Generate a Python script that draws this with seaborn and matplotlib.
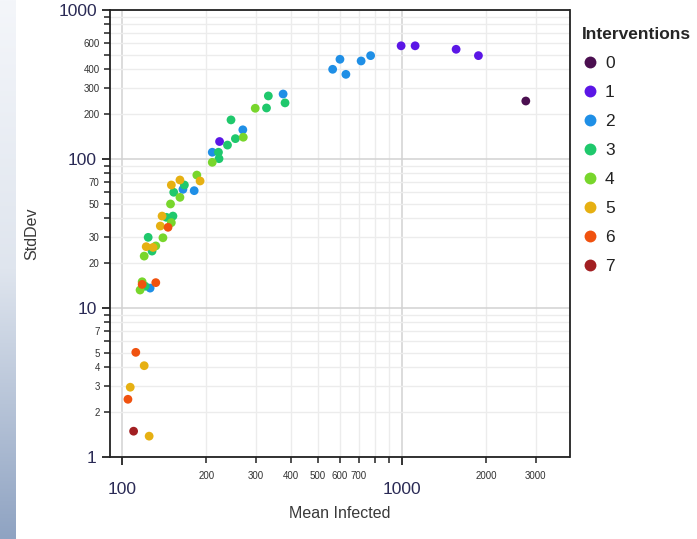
import numpy as np
import pandas as pd
import matplotlib
matplotlib.use("Agg")
import matplotlib.pyplot as plt
import matplotlib.ticker as mticker
import seaborn as sns

# valori (per numero di interventi)
mean_infected = [
    2765,
    992, 1113, 1559, 1873, 223,
    565, 600, 630, 714, 772, 376, 270, 210, 181, 165, 126,
    333, 328, 382, 245, 254, 238, 221, 222, 167, 153, 152, 144, 124, 128, 121,
    299, 271, 210, 185, 161, 149, 150, 140, 132, 120, 118, 116,
    190, 161, 150, 139, 137, 122, 129, 120, 107, 125,
    146, 118, 132, 112, 105,
    110,
]
std_dev = [
    245,
    575, 575, 545, 494, 131,
    400, 467, 370, 455, 494, 273, 157, 111, 61.3, 62.6, 13.6,
    265, 220, 238, 183, 137, 124, 111, 100.5, 66.9, 59.8, 41.4, 40.6, 29.8, 24.1, 14.0,
    219, 140, 95, 78, 55.3, 49.9, 37.4, 29.6, 26.1, 22.3, 15.0, 13.2,
    71.2, 72.3, 66.9, 41.4, 35.5, 25.8, 25.5, 4.1, 2.94, 1.38,
    34.8, 14.4, 14.8, 5.04, 2.44,
    1.49,
]
interventions = (
    [0] * 1 + [1] * 5 + [2] * 11 + [3] * 15 + [4] * 12 + [5] * 10 + [6] * 5 + [7] * 1
)

colori = ["#4b0f50", "#5b16e6", "#1f8fe6", "#1fc86c", "#78d62c", "#e6b012", "#f0520f", "#a21f22"]
livelli = [str(i) for i in range(8)]

df = pd.DataFrame({
    "Mean Infected": mean_infected,
    "StdDev": std_dev,
    "Interventions": [str(i) for i in interventions],
})

sns.set_theme(style="ticks")
plt.rcParams["font.family"] = ["Liberation Sans", "DejaVu Sans"]

fig = plt.figure(figsize=(6.97, 5.39), dpi=100)
ax = fig.add_axes([110 / 697, 1 - 457 / 539, 459.5 / 697, 447 / 539])

# striscia sfumata a sinistra
bg = fig.add_axes([0, 0, 15 / 697, 1])
grad = np.linspace(0, 1, 256).reshape(-1, 1)
cmap = matplotlib.colors.LinearSegmentedColormap.from_list("bg", ["#f4f6fa", "#dfe5ee", "#8fa3c2"])
bg.imshow(grad, aspect="auto", cmap=cmap, extent=[0, 1, 0, 1], origin="upper")
bg.axis("off")

sns.scatterplot(
    data=df, x="Mean Infected", y="StdDev", hue="Interventions",
    hue_order=livelli, palette=dict(zip(livelli, colori)),
    s=40, linewidth=0, ax=ax, zorder=3,
)

ax.set_xscale("log")
ax.set_yscale("log")
ax.set_xlim(90.6, 3960)
ax.set_ylim(1, 1000)

# tick maggiori e minori con etichette
ax.xaxis.set_major_locator(mticker.FixedLocator([100, 1000]))
ax.xaxis.set_major_formatter(mticker.FixedFormatter(["100", "1000"]))
x_minor = [200, 300, 400, 500, 600, 700, 800, 900, 2000, 3000]
x_minor_lab = ["200", "300", "400", "500", "600", "700", "", "", "2000", "3000"]
ax.xaxis.set_minor_locator(mticker.FixedLocator(x_minor))
ax.xaxis.set_minor_formatter(mticker.FixedFormatter(x_minor_lab))

ax.yaxis.set_major_locator(mticker.FixedLocator([1, 10, 100, 1000]))
ax.yaxis.set_major_formatter(mticker.FixedFormatter(["1", "10", "100", "1000"]))
y_minor = [2, 3, 4, 5, 6, 7, 8, 9, 20, 30, 40, 50, 60, 70, 80, 90,
           200, 300, 400, 500, 600, 700, 800, 900]
y_minor_lab = ["2", "3", "4", "5", "", "7", "", "",
               "20", "30", "", "50", "", "70", "", "",
               "200", "300", "400", "", "600", "", "", ""]
ax.yaxis.set_minor_locator(mticker.FixedLocator(y_minor))
ax.yaxis.set_minor_formatter(mticker.FixedFormatter(y_minor_lab))

ax.tick_params(which="major", labelsize=12.5, length=6, width=1.3, colors="#222222",
               labelcolor="#2a2a55")
ax.tick_params(which="minor", labelsize=7, length=4, width=1.1, colors="#222222",
               labelcolor="#333333")
ax.tick_params(axis="x", which="minor", pad=6)
ax.tick_params(axis="x", which="major", pad=12)

ax.grid(which="major", color="#d2d2d2", linewidth=1.1, zorder=0)
ax.grid(which="minor", color="#ececec", linewidth=1.0, zorder=0)
for sp in ax.spines.values():
    sp.set_color("#222222")
    sp.set_linewidth(1.3)

ax.set_xlabel("Mean Infected", fontsize=11.5, color="#3a3a3a")
ax.set_ylabel("StdDev", fontsize=11.5, color="#3a3a3a")
ax.xaxis.set_label_coords(0.5, -0.11)
ax.yaxis.set_label_coords(-0.1545, 0.5)

sns.move_legend(
    ax, "upper left", bbox_to_anchor=(1.0, 0.99), frameon=False,
    title="Interventions", fontsize=12.5, title_fontsize=12.5,
    markerscale=1.35, handlelength=1.0, handletextpad=0.35,
    labelspacing=0.8, borderaxespad=0.3,
)
leg = ax.get_legend()
leg.get_title().set_fontweight("bold")
leg._legend_box.align = "left"
for t in leg.get_texts():
    t.set_color("#222222")

fig.savefig("out.png", dpi=100)
